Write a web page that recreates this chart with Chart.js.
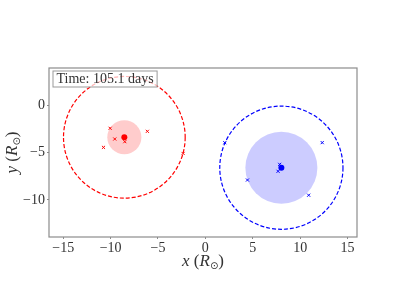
<!DOCTYPE html>
<html>
<head>
<meta charset="utf-8">
<script src="https://cdn.jsdelivr.net/npm/chart.js@4/dist/chart.umd.min.js"></script>
<style>
  html, body { margin: 0; padding: 0; background: #fff; }
  #wrap { width: 397px; height: 303px; }
</style>
</head>
<body>
<div id="wrap"><canvas id="orbit-chart"></canvas></div>
<script>
// star centres and radii (R_sun)
const redCentre = [{ x: -8.55, y: -3.4 }];
const blueCentre = [{ x: 8.02, y: -6.6 }];
const redCoreRadius = 1.8;
const blueCoreRadius = 3.8;
const redOrbitRadius = 6.42;
const blueOrbitRadius = 6.5;

// sample particles
const redParticles = [
  { x: -10.05, y: -2.45 },
  { x: -9.56, y: -3.58 },
  { x: -8.5, y: -3.86 },
  { x: -6.12, y: -2.77 },
  { x: -10.75, y: -4.46 },
  { x: -2.35, y: -5.1 },
];
const blueParticles = [
  { x: 12.33, y: -3.96 },
  { x: 7.84, y: -6.25 },
  { x: 7.67, y: -6.98 },
  { x: 4.44, y: -7.9 },
  { x: 10.9, y: -9.5 },
  { x: 2.05, y: -3.97 },
];

const xTicks = [-15, -10, -5, 0, 5, 10, 15];
const yTicks = [-10, -5, 0];
const timeLabel = "Time: 105.1 days";

const serif = "'Liberation Serif', 'DejaVu Serif', serif";

// radius in data units -> pixels, through the x scale
function pxRadius(r) {
  return (ctx) => {
    const sx = ctx.chart.scales.x;
    if (!sx) return 0;
    return Math.abs(sx.getPixelForValue(r) - sx.getPixelForValue(0));
  };
}

const dashPlugin = {
  id: "dashPlugin",
  beforeDatasetDraw(chart, args) {
    if (args.meta._dataset.dashed) {
      chart.ctx.save();
      chart.ctx.setLineDash([4, 2]);
    }
  },
  afterDatasetDraw(chart, args) {
    if (args.meta._dataset.dashed) chart.ctx.restore();
  },
};

// axis label like  x (R_sun)  with italic letters and a small sun symbol
function drawAxisLabel(ctx, letter, cx, cy, rotate) {
  const parts = [
    { t: letter, f: "italic 17px " + serif, dy: 0 },
    { t: " (", f: "17px " + serif, dy: 0 },
    { t: "R", f: "italic 17px " + serif, dy: 0 },
    { t: "\u2299", f: "10px 'DejaVu Sans', sans-serif", dy: 3 },
    { t: ")", f: "17px " + serif, dy: 0 },
  ];
  let total = 0;
  parts.forEach((p) => { ctx.font = p.f; p.w = ctx.measureText(p.t).width; total += p.w; });
  ctx.save();
  ctx.translate(cx, cy);
  if (rotate) ctx.rotate(-Math.PI / 2);
  ctx.fillStyle = "#333";
  ctx.textBaseline = "alphabetic";
  let x = -total / 2;
  parts.forEach((p) => { ctx.font = p.f; ctx.fillText(p.t, x, p.dy); x += p.w; });
  ctx.restore();
}

const framePlugin = {
  id: "framePlugin",
  afterDraw(chart) {
    const { ctx, chartArea: a } = chart;
    ctx.save();
    ctx.strokeStyle = "#8c8c8c";
    ctx.lineWidth = 1.2;
    ctx.strokeRect(a.left, a.top, a.right - a.left, a.bottom - a.top);

    // time box
    ctx.font = "14px " + serif;
    const w = ctx.measureText(timeLabel).width;
    const bx = a.left + 4, by = a.top + 3, bh = 16;
    ctx.fillStyle = "rgba(255,255,255,0.7)";
    ctx.fillRect(bx, by, w + 7, bh);
    ctx.strokeStyle = "#999";
    ctx.lineWidth = 1;
    ctx.strokeRect(bx, by, w + 7, bh);
    ctx.fillStyle = "#333";
    ctx.textBaseline = "middle";
    ctx.fillText(timeLabel, bx + 3.5, by + bh / 2 + 0.5);
    ctx.restore();

    drawAxisLabel(ctx, "x", (a.left + a.right) / 2, 266, false);
    drawAxisLabel(ctx, "y", 17, (a.top + a.bottom) / 2, true);
  },
};

new Chart(document.getElementById("orbit-chart"), {
  type: "scatter",
  data: {
    datasets: [
      { data: redCentre, pointRadius: pxRadius(redCoreRadius), backgroundColor: "rgba(255,0,0,0.2)", borderWidth: 0 },
      { data: blueCentre, pointRadius: pxRadius(blueCoreRadius), backgroundColor: "rgba(0,0,255,0.2)", borderWidth: 0 },
      { data: redCentre, dashed: true, pointRadius: pxRadius(redOrbitRadius), backgroundColor: "rgba(0,0,0,0)", borderColor: "#ff0000", borderWidth: 1.2 },
      { data: blueCentre, dashed: true, pointRadius: pxRadius(blueOrbitRadius), backgroundColor: "rgba(0,0,0,0)", borderColor: "#0000ff", borderWidth: 1.2 },
      { data: redParticles, pointStyle: "crossRot", pointRadius: 2.2, borderColor: "#ff0000", borderWidth: 1 },
      { data: blueParticles, pointStyle: "crossRot", pointRadius: 2.2, borderColor: "#0000ff", borderWidth: 1 },
      { data: redCentre, pointRadius: 3, backgroundColor: "#ff0000", borderWidth: 0 },
      { data: blueCentre, pointRadius: 3, backgroundColor: "#0000ff", borderWidth: 0 },
    ],
  },
  options: {
    responsive: true,
    maintainAspectRatio: false,
    animation: false,
    events: [],
    layout: { padding: { left: 0, right: 40, top: 68, bottom: 26 } },
    plugins: { legend: { display: false }, tooltip: { enabled: false } },
    scales: {
      x: {
        type: "linear",
        min: -16.5,
        max: 16,
        afterBuildTicks: (s) => { s.ticks = xTicks.map((v) => ({ value: v })); },
        afterFit: (s) => { s.height = 40; },
        border: { display: false },
        grid: { drawOnChartArea: false, tickLength: 2, color: "#8c8c8c" },
        ticks: { font: { family: serif, size: 14 }, color: "#333", padding: 1,
          callback: (v) => String(v).replace("-", "\u2212") },
      },
      y: {
        type: "linear",
        min: -13.9,
        max: 3.9,
        afterBuildTicks: (s) => { s.ticks = yTicks.map((v) => ({ value: v })); },
        afterFit: (s) => { s.width = 49; },
        border: { display: false },
        grid: { drawOnChartArea: false, tickLength: 2, color: "#8c8c8c" },
        ticks: { font: { family: serif, size: 14 }, color: "#333", padding: 2,
          callback: (v) => String(v).replace("-", "\u2212") },
      },
    },
  },
  plugins: [dashPlugin, framePlugin],
});
</script>
</body>
</html>
